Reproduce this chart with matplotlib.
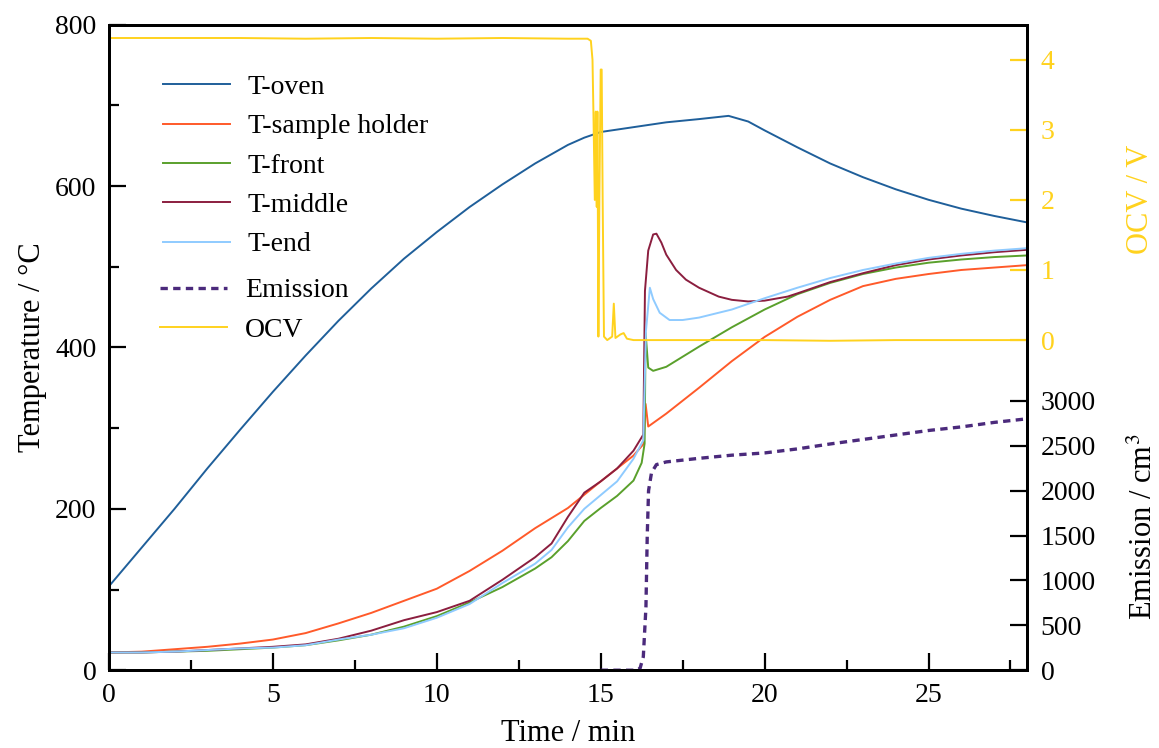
import numpy as np
import matplotlib
matplotlib.use('Agg')
import matplotlib.pyplot as plt
from matplotlib.lines import Line2D
from matplotlib.ticker import MultipleLocator

# ---- data ----
t_oven = [0, 1, 2, 3, 4, 5, 6, 7, 8, 9, 10, 11, 12, 13, 14, 14.5, 15, 16, 17,
          18, 18.9, 19.5, 20, 21, 22, 23, 24, 25, 26, 27, 28]
T_oven = [104, 152, 200, 250, 298, 345, 390, 433, 473, 510, 543, 574, 602, 628, 651,
          660, 667, 673, 679, 683, 687, 680, 669, 648, 628, 611, 596, 583, 572, 563, 555]

t_holder = [0, 1, 2, 3, 4, 5, 6, 7, 8, 9, 10, 11, 12, 13, 14, 15, 16, 16.3, 16.37,
            16.45, 17, 18, 19, 20, 21, 22, 23, 24, 25, 26, 27, 28]
T_holder = [22, 23, 26, 29, 33, 38, 46, 58, 71, 86, 101, 123, 148, 176, 201, 234, 266,
            280, 330, 302, 318, 350, 383, 413, 438, 459, 476, 485, 491, 496, 499, 502]

t_front = [0, 1, 2, 3, 4, 5, 6, 7, 8, 9, 10, 11, 12, 13, 13.5, 14, 14.5, 15, 15.5,
           16, 16.25, 16.34, 16.37, 16.45, 16.6, 17, 18, 19, 20, 21, 22, 23, 24, 25,
           26, 27, 28]
T_front = [22, 22, 23, 24, 26, 28, 31, 37, 44, 54, 67, 84, 103, 126, 140, 160, 185,
           201, 216, 235, 257, 281, 418, 375, 371, 376, 401, 425, 447, 466, 480, 491,
           499, 505, 509, 512, 514]

t_middle = [0, 1, 2, 3, 4, 5, 6, 7, 8, 9, 10, 11, 12, 13, 13.5, 14, 14.5, 15, 15.5,
            16, 16.3, 16.35, 16.45, 16.6, 16.7, 16.85, 17, 17.3, 17.6, 18, 18.6, 19,
            19.5, 20, 20.7, 21, 22, 23, 24, 25, 26, 27, 28]
T_middle = [22, 22, 23, 25, 27, 29, 32, 39, 49, 62, 72, 86, 112, 140, 157, 190, 220,
            234, 250, 272, 292, 470, 520, 540, 541, 530, 515, 496, 484, 474, 463, 459,
            457, 458, 463, 467, 481, 492, 502, 509, 514, 518, 521]

t_end = [0, 1, 2, 3, 4, 5, 6, 7, 8, 9, 10, 11, 12, 13, 13.5, 14, 14.5, 15, 15.5, 16,
         16.3, 16.38, 16.5, 16.6, 16.8, 17.1, 17.5, 18, 18.6, 19, 20, 21, 22, 23, 24,
         25, 26, 27, 28]
T_end = [22, 22, 23, 25, 27, 28, 31, 38, 44, 52, 65, 82, 108, 132, 149, 177, 200, 217,
         234, 262, 285, 420, 474, 460, 443, 434, 434, 437, 443, 447, 461, 474, 486, 496,
         504, 511, 516, 520, 523]

t_em = [15, 16.1, 16.2, 16.3, 16.38, 16.42, 16.46, 16.55, 16.7, 17, 18, 19, 20, 21,
        22, 23, 24, 25, 26, 27, 28]
emission = [0, 0, 20, 150, 700, 1500, 2000, 2200, 2290, 2320, 2360, 2395, 2420, 2465,
            2520, 2570, 2620, 2670, 2710, 2760, 2800]

t_ocv = [0, 2, 4, 6, 8, 10, 12, 14, 14.6, 14.7, 14.75, 14.78, 14.82, 14.85, 14.88,
         14.9, 14.93, 14.96, 15.0, 15.03, 15.06, 15.1, 15.2, 15.35, 15.4, 15.45, 15.6,
         15.7, 15.8, 16, 18, 20, 22, 24, 26, 28]
ocv = [4.31, 4.31, 4.31, 4.30, 4.31, 4.30, 4.31, 4.30, 4.30, 4.27, 4.0, 3.2, 2.0,
       3.26, 1.9, 3.26, 0.05, 2.0, 3.86, 3.86, 2.0, 0.05, 0.0, 0.05, 0.52, 0.03, 0.08,
       0.1, 0.02, 0.0, 0.0, 0.0, -0.01, 0.0, 0.0, 0.0]

c_oven = '#1f5f9a'
c_holder = '#ff5a2a'
c_front = '#5aa02c'
c_middle = '#8b1e3f'
c_end = '#8fcbff'
c_em = '#4b2a7c'
c_ocv = '#ffd21e'

plt.rcParams['font.family'] = ['Liberation Serif', 'DejaVu Serif']
plt.rcParams['mathtext.fontset'] = 'stix'

fig = plt.figure(figsize=(11.59, 7.48), dpi=100)
ax = fig.add_axes([0.094, 0.104, 0.792, 0.863])
ax_ocv = ax.twinx()
ax_em = ax.twinx()

lw = 1.4
ax.plot(t_oven, T_oven, color=c_oven, lw=lw, label='T-oven')
ax.plot(t_holder, T_holder, color=c_holder, lw=lw, label='T-sample holder')
ax.plot(t_front, T_front, color=c_front, lw=lw, label='T-front')
ax.plot(t_middle, T_middle, color=c_middle, lw=lw, label='T-middle')
ax.plot(t_end, T_end, color=c_end, lw=lw, label='T-end')
ax_em.plot(t_em, emission, color=c_em, lw=2.4, ls=(0, (2.2, 1.6)), label='Emission')
ax_ocv.plot(t_ocv, ocv, color=c_ocv, lw=1.4, label='OCV')

ax.set_xlim(0, 28)
ax.set_ylim(0, 800)
ax_ocv.set_ylim(-4.71, 4.5)
ax_em.set_ylim(0, 7190)

ax.xaxis.set_major_locator(MultipleLocator(5))
ax.xaxis.set_minor_locator(MultipleLocator(2.5))
ax.yaxis.set_major_locator(MultipleLocator(200))
ax.yaxis.set_minor_locator(MultipleLocator(100))
ax_ocv.set_yticks([0, 1, 2, 3, 4])
ax_em.set_yticks(range(0, 3001, 500))

fs_tick = 20
ax.tick_params(which='both', direction='in', width=1.6, labelsize=fs_tick, pad=9,
               top=False, right=False)
ax.tick_params(which='major', length=12)
ax.tick_params(which='minor', length=7)
ax_ocv.tick_params(direction='in', length=12, width=1.6, labelsize=fs_tick, pad=10,
                   colors=c_ocv)
ax_em.tick_params(direction='in', length=12, width=1.6, labelsize=fs_tick, pad=10)

for a in (ax, ax_ocv, ax_em):
    for s in a.spines.values():
        s.set_linewidth(2)
ax_ocv.spines['right'].set_color('black')

fs_lab = 22
ax.set_xlabel('Time / min', fontsize=fs_lab, labelpad=8)
ax.set_ylabel('Temperature / °C', fontsize=fs_lab, labelpad=6)
ax_ocv.set_ylabel('OCV / V', fontsize=fs_lab, color=c_ocv)
ax_em.set_ylabel('Emission / cm$^3$', fontsize=fs_lab)
ax_ocv.yaxis.set_label_coords(1.108, 0.73)
ax_em.yaxis.set_label_coords(1.112, 0.222)

leg_kw = dict(frameon=False, fontsize=20, handlelength=2.4, handletextpad=0.65,
              labelspacing=0.5, borderaxespad=0)
leg1 = ax_em.legend(handles=ax.get_lines(), loc='upper left',
                    bbox_to_anchor=(0.047, 0.94), **leg_kw)
ax_em.add_artist(leg1)
h2 = [Line2D([], [], color=c_em, lw=2.4, ls=(0, (2.2, 1.6))),
      Line2D([], [], color=c_ocv, lw=1.4)]
ax_em.legend(h2, ['Emission', 'OCV'], loc='upper left',
             bbox_to_anchor=(0.044, 0.625), **leg_kw)

fig.savefig('out.png', dpi=100)
